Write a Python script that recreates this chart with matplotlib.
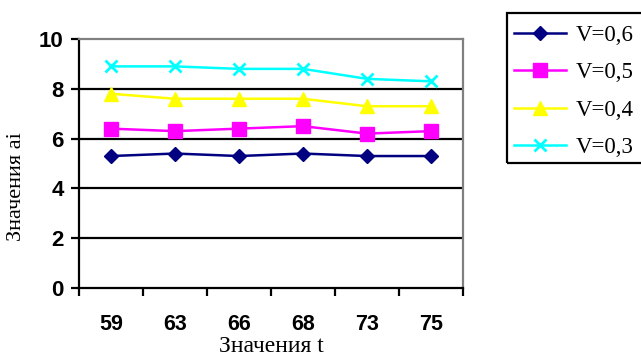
import matplotlib
matplotlib.use("Agg")
import matplotlib.pyplot as plt
from matplotlib.patches import Rectangle
import numpy as np

# Category values on the horizontal axis
t_values = ["59", "63", "66", "68", "73", "75"]

# Series values a_i for each V
v06 = [5.3, 5.4, 5.3, 5.4, 5.3, 5.3]
v05 = [6.4, 6.3, 6.4, 6.5, 6.2, 6.3]
v04 = [7.8, 7.6, 7.6, 7.6, 7.3, 7.3]
v03 = [8.9, 8.9, 8.8, 8.8, 8.4, 8.3]

series_labels = ["V=0,6", "V=0,5", "V=0,4", "V=0,3"]
y_ticks = [0, 2, 4, 6, 8, 10]

W, H = 641, 359
fig = plt.figure(figsize=(W / 100, H / 100), dpi=100)

# axes placed in pixel coordinates
left, right, top, bottom = 79, 463, 39, 288
ax = fig.add_axes([left / W, 1 - bottom / H, (right - left) / W, (bottom - top) / H])

x = np.arange(len(t_values))
styles = [
    dict(color="#000080", marker="D", ms=7.5),
    dict(color="#FF00FF", marker="s", ms=10),
    dict(color="#FFFF00", marker="^", ms=10),
    dict(color="#00FFFF", marker="x", ms=9, mew=2),
]
for vals, lab, st in zip([v06, v05, v04, v03], series_labels, styles):
    ax.plot(x, vals, lw=1.8, label=lab, clip_on=False, **st)

ax.set_xlim(-0.5, len(t_values) - 0.5)
ax.set_ylim(0, 10)

# horizontal gridlines
for yv in y_ticks[1:-1]:
    ax.axhline(yv, color="black", lw=1.6, zorder=0.5)

# spines
for s in ("left", "bottom"):
    ax.spines[s].set_color("black")
    ax.spines[s].set_linewidth(1.6)
for s in ("top", "right"):
    ax.spines[s].set_color("#808080")
    ax.spines[s].set_linewidth(1.6)

# y ticks
ax.set_yticks(y_ticks)
ax.set_yticklabels([str(v) for v in y_ticks], fontfamily="Liberation Sans",
                   fontweight="bold", fontsize=16)
ax.tick_params(axis="y", direction="out", length=6, width=1.6, pad=5, color="black")

# x: tick marks at category boundaries, labels at centres
ax.set_xticks(np.arange(-0.5, len(t_values), 1.0))
ax.set_xticklabels([])
ax.tick_params(axis="x", which="major", direction="out", length=6, width=1.6, color="black")
ax.set_xticks(x, minor=True)
ax.set_xticklabels(t_values, minor=True, fontfamily="Liberation Sans",
                   fontweight="bold", fontsize=15.5)
ax.tick_params(axis="x", which="minor", length=0, pad=19)

# axis titles
fig.text(271 / W, 1 - 346 / H, "Значения t", ha="center", va="center",
         fontfamily="Liberation Serif", fontsize=17)
fig.text(17 / W, 1 - 187 / H, "Значения ai", ha="center", va="center",
         rotation=90, fontfamily="Liberation Serif", fontsize=16)

# legend with its own frame running past the right edge
leg = fig.legend(loc="upper left", bbox_to_anchor=(509 / W, 1 - 20 / H),
                 frameon=False,
                 prop={"family": "Liberation Serif", "size": 16.5},
                 handlelength=2.3, handletextpad=0.4, borderpad=0.2,
                 labelspacing=0.72, borderaxespad=0)
fig.patches.append(Rectangle((507 / W, 1 - 163 / H), 140 / W, 150 / H,
                             transform=fig.transFigure, fill=False,
                             edgecolor="black", lw=1.6))

fig.savefig("out.png", dpi=100)
